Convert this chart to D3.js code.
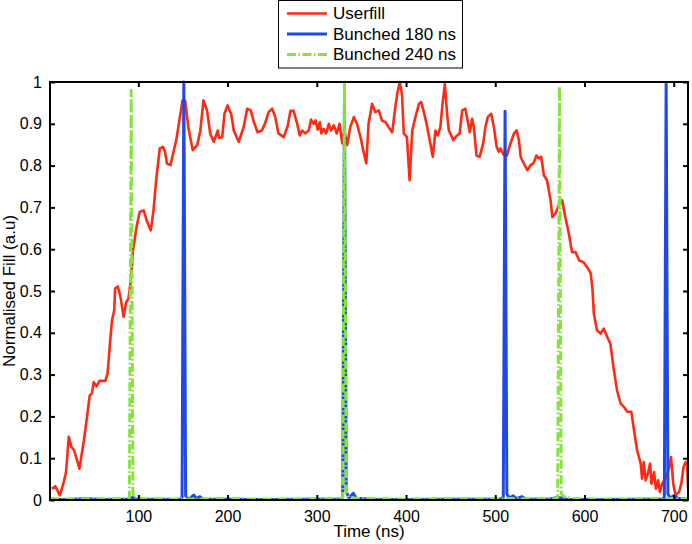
<!DOCTYPE html>
<html>
<head>
<meta charset="utf-8">
<script src="https://cdn.jsdelivr.net/npm/d3@7/dist/d3.min.js"></script>
<style>
  html, body { margin: 0; padding: 0; background: #fff; }
  svg { display: block; }
  text { font-family: "Liberation Sans", Arial, Helvetica, sans-serif; fill: #000; }
</style>
</head>
<body>
<svg id="chart" width="692" height="544"></svg>
<script>
// ---------------- DATA ----------------
const seriesNames = ["Userfill", "Bunched 180 ns", "Bunched 240 ns"];
const xTicks = [100, 200, 300, 400, 500, 600, 700];
const yTicks = [0, 0.1, 0.2, 0.3, 0.4, 0.5, 0.6, 0.7, 0.8, 0.9, 1];
const xDomain = [1, 716];

// Userfill: [time (ns), normalised fill]
const userfill = [
  [3,0.027],[7,0.033],[12,0.011],[16,0.039],[19,0.067],[22,0.151],[25,0.127],[28,0.119],[31,0.097],[34,0.075],
  [39,0.143],[42.5,0.199],[45.5,0.25],[48,0.255],[50,0.282],[53,0.272],[56.5,0.285],[63,0.285],[65.5,0.302],[68.5,0.382],
  [70.5,0.43],[73,0.454],[74,0.506],[77,0.511],[80,0.486],[83.5,0.438],[86.5,0.474],[89,0.482],[92,0.533],[94,0.597],
  [98,0.653],[101.5,0.689],[106,0.693],[110,0.665],[114,0.645],[117,0.693],[120,0.765],[124,0.841],[127.5,0.845],[130,0.833],
  [132,0.805],[136,0.801],[139,0.829],[142.5,0.861],[146,0.908],[149.5,0.956],[152.5,0.955],[156,0.892],[161,0.837],[166,0.849],
  [169.5,0.884],[173,0.956],[177,0.932],[180.5,0.877],[184.5,0.857],[189,0.884],[190.5,0.866],[194,0.868],[196.5,0.924],[200,0.944],
  [204,0.924],[207,0.884],[212.5,0.857],[218,0.892],[222,0.936],[226,0.932],[229,0.908],[233.5,0.88],[238.5,0.884],[242.5,0.904],
  [246,0.928],[250,0.936],[253.5,0.916],[257,0.877],[263,0.868],[267.5,0.896],[270.5,0.931],[274,0.931],[278,0.9],[281,0.872],
  [283.5,0.884],[287,0.877],[291,0.884],[293.5,0.91],[296.5,0.9],[298.5,0.908],[301,0.886],[303.5,0.904],[305,0.877],[307.5,0.888],
  [310.5,0.877],[313.5,0.9],[316,0.884],[319,0.896],[322.5,0.877],[325.5,0.9],[328.5,0.853],[331,0.884],[334,0.849],[337.5,0.892],
  [341.5,0.916],[345,0.9],[349,0.868],[352,0.837],[355.5,0.805],[358,0.9],[362,0.948],[365.5,0.928],[369.5,0.932],[373,0.908],
  [377,0.904],[380.5,0.892],[384.5,0.88],[388,0.94],[390.5,0.976],[393,1.0],[395.5,0.97],[397.5,0.877],[401,0.868],[404,0.765],
  [407,0.884],[410.5,0.916],[414.5,0.948],[417,0.952],[420,0.928],[423,0.9],[426.5,0.861],[430,0.821],[433,0.884],[435.5,0.872],
  [438.5,0.892],[441,0.95],[443.5,0.995],[446,0.924],[448,0.884],[453,0.861],[457,0.872],[460,0.876],[463,0.932],[466.5,0.936],
  [469,0.908],[471.5,0.88],[474,0.912],[476,0.892],[479,0.824],[482.5,0.821],[486.5,0.853],[489,0.892],[491.5,0.916],[495.5,0.924],
  [498.5,0.892],[501.5,0.845],[504,0.833],[506,0.841],[509,0.827],[513,0.824],[517,0.853],[521,0.877],[524,0.884],[526.5,0.861],
  [528.5,0.821],[532,0.805],[536,0.789],[539.5,0.801],[543,0.806],[546,0.824],[549,0.817],[551.5,0.821],[554.5,0.777],[558,0.765],
  [562,0.717],[564,0.677],[567.5,0.685],[571,0.705],[575,0.717],[578.5,0.677],[582.5,0.637],[586,0.593],[590,0.593],[594,0.573],
  [599,0.569],[603,0.557],[607,0.542],[609,0.502],[610.5,0.446],[614,0.406],[618,0.398],[621.5,0.41],[625.5,0.39],[629,0.374],
  [633,0.31],[636.5,0.262],[640.5,0.231],[644,0.223],[648,0.211],[652.5,0.211],[655.5,0.167],[659,0.119],[663,0.087],[664.5,0.051],
  [666.5,0.091],[668.5,0.047],[671,0.063],[673.5,0.087],[675,0.039],[678,0.067],[680,0.027],[682.5,0.047],[684.5,0.019],[687,0.039],
  [692,0.055],[695,0.079],[697,0.103],[699.5,0.039],[702,0.011],[706,0.019],[708.5,0.039],[711,0.079],[713.5,0.091],[715,0.087],[716,0.03]
];

// Bunched 180 ns
const bunched180 = [
  [1,0.002],[20,0.001],[40,0.003],[60,0.001],[80,0.002],[90,0.002],[93,0.006],[96,0.004],[100,0.001],[120,0.002],
  [140,0.001],[147,0.002],[149,0.006],[151,1.0],[153,0.01],[155,0.003],[158,0.004],[162,0.012],[165,0.004],[169,0.008],
  [172,0.002],[200,0.002],[250,0.001],[300,0.002],[327,0.002],[329,0.006],[331,0.95],[333,0.02],[336,0.005],[341,0.016],
  [344,0.004],[360,0.002],[400,0.001],[450,0.002],[505,0.002],[509,0.006],[511,0.93],[513,0.015],[516,0.004],[520,0.01],
  [524,0.003],[530,0.008],[534,0.002],[560,0.002],[570,0.006],[574,0.005],[580,0.002],[620,0.001],[660,0.002],[687,0.002],
  [689.5,0.006],[691.5,0.995],[693.5,0.015],[696,0.004],[700,0.01],[705,0.004],[716,0.002]
];

// Bunched 240 ns
const bunched240 = [
  [1,0.003],[30,0.002],[60,0.003],[87,0.003],[90,0.006],[92,0.98],[94,0.015],[96,0.005],[100,0.008],[104,0.003],
  [140,0.002],[150,0.004],[155,0.002],[200,0.003],[250,0.002],[300,0.003],[327,0.003],[329,0.006],[331,1.0],[333,0.02],
  [336,0.006],[345,0.004],[400,0.002],[450,0.003],[500,0.002],[510,0.004],[530,0.003],[567,0.003],[570,0.006],[572,0.99],
  [574,0.015],[577,0.008],[582,0.006],[590,0.003],[650,0.002],[690,0.004],[716,0.003]
];

const seriesData = [userfill, bunched180, bunched240];
const seriesColors = ["#FF2A14", "#1F48E6", "#84E43C"];
const seriesWidths = [2.6, 3, 3];
const seriesDash = [null, null, "9,2.5,1.5,2.5"];

// ---------------- CHART ----------------
const svg = d3.select("#chart");
const L = 50, R = 688, T = 82, B = 500;

const x = d3.scaleLinear().domain(xDomain).range([L, R]);
const y = d3.scaleLinear().domain([0, 1]).range([B, T]);

svg.append("defs").append("clipPath").attr("id", "clip")
  .append("rect").attr("x", L).attr("y", T - 2).attr("width", R - L).attr("height", B - T + 4);

const line = d3.line().x(d => x(d[0])).y(d => y(d[1]));

// lines
const gLines = svg.append("g").attr("clip-path", "url(#clip)");
seriesData.forEach((data, i) => {
  gLines.append("path")
    .datum(data)
    .attr("d", line)
    .attr("fill", "none")
    .attr("stroke", seriesColors[i])
    .attr("stroke-width", seriesWidths[i])
    .attr("stroke-linejoin", "round")
    .attr("stroke-dasharray", seriesDash[i]);
});

// axes
const fmtY = d => d3.format("~g")(d);
const axisStyle = g => {
  g.select(".domain").remove();
  g.selectAll(".tick line").attr("stroke", "#000").attr("stroke-width", 2);
  g.selectAll(".tick text").style("font-size", "16px").attr("fill", "#000");
  g.attr("font-family", null);
};

svg.append("g").attr("transform", `translate(0,${B})`)
  .call(d3.axisBottom(x).tickValues(xTicks).tickSize(-5).tickPadding(11).tickFormat(d3.format("d")))
  .call(axisStyle);
svg.append("g").attr("transform", `translate(${L},0)`)
  .call(d3.axisLeft(y).tickValues(yTicks).tickSize(-5).tickPadding(8).tickFormat(fmtY))
  .call(axisStyle);
svg.append("g").attr("transform", `translate(0,${T})`)
  .call(d3.axisTop(x).tickValues(xTicks).tickSize(-5).tickFormat(""))
  .call(axisStyle);
svg.append("g").attr("transform", `translate(${R},0)`)
  .call(d3.axisRight(y).tickValues(yTicks).tickSize(-5).tickFormat(""))
  .call(axisStyle);

// box
svg.append("rect")
  .attr("x", L).attr("y", T).attr("width", R - L).attr("height", B - T)
  .attr("fill", "none").attr("stroke", "#000").attr("stroke-width", 2);

// axis labels
svg.append("text")
  .attr("x", (L + R) / 2).attr("y", 537)
  .attr("text-anchor", "middle")
  .style("font-size", "17px")
  .text("Time (ns)");

svg.append("text")
  .attr("transform", `translate(15,${(T + B) / 2}) rotate(-90)`)
  .attr("text-anchor", "middle")
  .style("font-size", "17px")
  .text("Normalised Fill (a.u)");

// legend
const leg = svg.append("g");
leg.append("rect")
  .attr("x", 278.5).attr("y", 0.5).attr("width", 184).attr("height", 67.5)
  .attr("fill", "#fff").attr("stroke", "#000").attr("stroke-width", 1);
const legY = [13.5, 34, 54.5];
seriesNames.forEach((name, i) => {
  leg.append("line")
    .attr("x1", 287).attr("x2", 327)
    .attr("y1", legY[i]).attr("y2", legY[i])
    .attr("stroke", seriesColors[i])
    .attr("stroke-width", seriesWidths[i])
    .attr("stroke-dasharray", seriesDash[i]);
  leg.append("text")
    .attr("x", 333).attr("y", legY[i] + 5.5)
    .style("font-size", "17px")
    .text(name);
});
</script>
</body>
</html>
